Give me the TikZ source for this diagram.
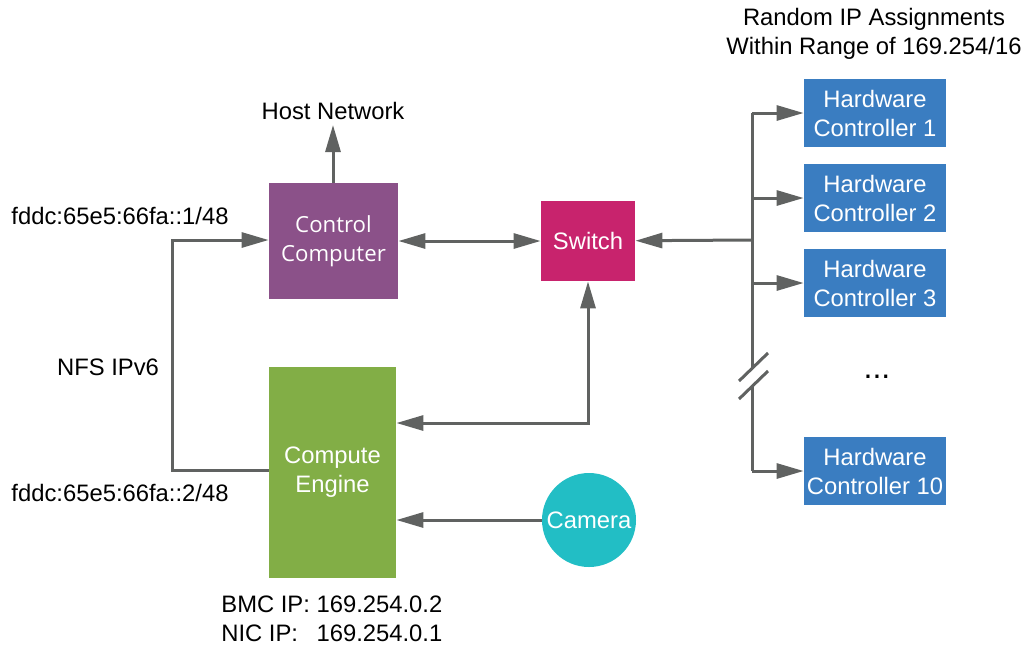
\documentclass[tikz,border=0pt]{standalone}
\usepackage{fontspec}
\setmainfont{Liberation Sans}
\newfontfamily\boxfont{Open Sans}
\usetikzlibrary{arrows.meta, positioning, calc}

\definecolor{ccpurple}{HTML}{8B5189}
\definecolor{swmagenta}{HTML}{C8236D}
\definecolor{cegreen}{HTML}{82AE46}
\definecolor{camcyan}{HTML}{22BEC5}
\definecolor{hwblue}{HTML}{3A7DC1}
\definecolor{linegray}{HTML}{606261}

\begin{document}
\begin{tikzpicture}[x=0.5pt, y=-0.5pt, every node/.style={font=\fontsize{11.9}{14.5}\selectfont},
    blk/.style={inner sep=0pt, align=center, text=white},
    hw/.style={blk, fill=hwblue, minimum width=71pt, minimum height=34pt},
    wire/.style={draw=linegray, line width=1.5pt},
    conn/.style={wire, -{Triangle[length=13.5pt, width=7.5pt]}},
    dconn/.style={wire, {Triangle[length=13.5pt, width=7.5pt]}-{Triangle[length=13.5pt, width=7.5pt]}}]
    \useasboundingbox (0,0) rectangle (1026,644);

    % boxes
    \node[blk, fill=ccpurple, minimum width=64.5pt, minimum height=58pt,
          font=\boxfont\fontsize{11.1}{14.5}\selectfont] (cc) at (333.5,241) {Control\\Computer};
    \node[blk, fill=swmagenta, minimum width=47pt, minimum height=40pt] (sw) at (588,241) {Switch};
    \node[blk, fill=cegreen, minimum width=63.5pt, minimum height=105.5pt] (ce) at (332.5,472.5) {Compute\\Engine};
    \node[blk, circle, fill=camcyan, minimum size=47pt] (cam) at (589,520) {Camera};

    \node[hw] (hw1) at (875,113) {Hardware\\Controller 1};
    \node[hw] (hw2) at (875,198) {Hardware\\Controller 2};
    \node[hw] (hw3) at (875,283) {Hardware\\Controller 3};
    \node[hw] (hw10) at (875,471) {Hardware\\Controller 10};
    \node[font=\fontsize{16}{16}\selectfont] (dots) at (877,377) {...};

    % labels
    \node[inner sep=0pt] (host) at (333,111) {Host Network};
    \node (fddca) at (120,216) {fddc:65e5:66fa::1/48};
    \node (nfs) at (108,367) {NFS IPv6};
    \node (fddcb) at (120,493) {fddc:65e5:66fa::2/48};
    \node[anchor=north west, inner sep=0pt] (ips) at (221,592)
        {\begin{tabular}{@{}l@{\ }l}BMC IP: & 169.254.0.2\\ NIC IP: & 169.254.0.1\end{tabular}};
    \node[align=center] (rand) at (874,34) {Random IP Assignments\\Within Range of 169.254/16};

    % trunk to controllers
    \coordinate (trtop) at (752,113);
    \coordinate (trsw) at (752,240);
    \coordinate (brka) at (752,367);
    \coordinate (brkb) at (752,386);
    \coordinate (trbot) at (752,471);
    \draw[wire] (trtop) -- (brka);
    \draw[wire] (brkb) -- (trbot);
    \draw[wire] ($(brka)+(-13,14)$) -- ($(brka)+(16,-14)$);
    \draw[wire] ($(brkb)+(-13,13)$) -- ($(brkb)+(16,-15)$);
    \foreach \h in {hw1,hw2,hw3,hw10}
        \draw[conn] (trtop |- \h) -- (\h);
    \draw[conn] (trsw) -- (sw);

    % computer, switch and engine
    \coordinate (hosttip) at (333,125);
    \draw[conn] (cc.north -| hosttip) -- (hosttip);
    \draw[dconn] (cc) -- (sw);
    \coordinate (swce) at (588,423);
    \draw[dconn] (ce.east |- swce) -- (swce) -- (sw.south);
    \draw[conn] (cam) -- (ce.east |- cam);

    % NFS link
    \coordinate (nfstop) at (172,240);
    \coordinate (nfsbot) at (172,470);
    \draw[conn] (ce.west |- nfsbot) -- (nfsbot) -- (nfstop) -- (cc.west |- nfstop);
\end{tikzpicture}
\end{document}
